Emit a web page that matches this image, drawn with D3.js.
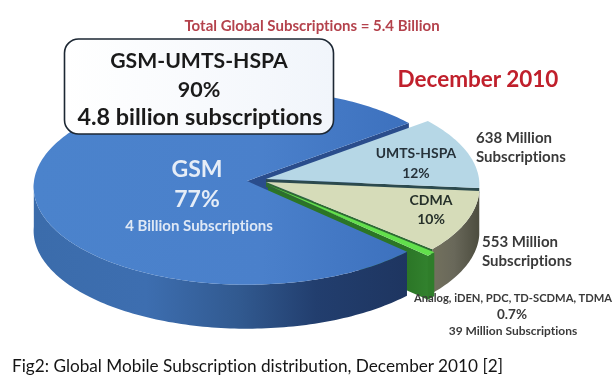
<!DOCTYPE html>
<html>
<head>
<meta charset="utf-8">
<script src="https://cdn.jsdelivr.net/npm/d3@7"></script>
<style>
  html, body { margin: 0; padding: 0; background: #fff; }
  svg { filter: blur(0.3px); }
  text { font-family: Lato, "Open Sans", sans-serif; font-variant-ligatures: none; }
</style>
</head>
<body>
<div id="chart"></div>
<script>
// values
const categories = ["UMTS-HSPA", "CDMA", "Other", "GSM"];
const shares = [12, 10, 0.7, 77];
const sliceColors = ["#b6d7e6", "#d6dcb9", "#62e04c", "url(#gsmTop)"];

const totalTitle = "Total Global Subscriptions = 5.4 Billion";
const dateTitle = "December 2010";
const calloutLines = ["GSM-UMTS-HSPA", "90%", "4.8 billion subscriptions"];
const gsmLines = ["GSM", "77%", "4 Billion Subscriptions"];
const umtsLines = ["UMTS-HSPA", "12%"];
const umtsNote = ["638 Million", "Subscriptions"];
const cdmaLines = ["CDMA", "10%"];
const cdmaNote = ["553 Million", "Subscriptions"];
const otherLines = ["Analog, iDEN, PDC, TD-SCDMA, TDMA", "0.7%", "39 Million Subscriptions"];
const caption = "Fig2: Global Mobile Subscription distribution, December 2010 [2]";

const w = 614, h = 379;
const depth = 44;
const rx = 213, ry = 97.5, persp = 0.06;   // flattened disc with a little perspective
const startDeg = 52;                       // pie start, clockwise from 12 o'clock

const svg = d3.select("#chart").append("svg").attr("width", w).attr("height", h);
const defs = svg.append("defs");

const grad = (id, stops, x1, x2) => {
    const g = defs.append("linearGradient").attr("id", id)
        .attr("gradientUnits", "userSpaceOnUse")
        .attr("x1", x1).attr("x2", x2).attr("y1", 0).attr("y2", 0);
    stops.forEach(s => g.append("stop").attr("offset", s[0]).attr("stop-color", s[1]));
};
grad("gsmTop", [[0, "#4b83cc"], [0.6, "#4a80cb"], [1, "#3c70bd"]], 33, 415);
grad("gsmWall", [[0, "#3b6cab"], [0.3, "#3d6eb0"], [0.55, "#31598f"], [0.75, "#223e6e"], [1, "#1e3560"]], 33, 410);
grad("cdmaWall", [[0, "#74725e"], [0.5, "#69685a"], [1, "#4e4e40"]], 430, 478);
grad("otherWall", [[0, "#2b7526"], [1, "#348530"]], 405, 435);
grad("calloutFill", [[0, "#ffffff"], [1, "#f1f5fb"]], 64, 334);

const arcs = d3.pie().sort(null).value(d => d)
    .startAngle(startDeg * Math.PI / 180)
    .endAngle((startDeg + 360) * Math.PI / 180)(shares);

// pie angle (clockwise from north) -> picture coordinates
const project = (a, f, c) => {
    const cos = Math.sin(a), sin = -Math.cos(a);
    const k = 1 - persp * sin * f;
    return [c.x + rx * f * cos / k, c.y + ry * f * sin / k];
};
const rim = (a0, a1, c) => {
    const n = Math.max(2, Math.ceil(Math.abs(a1 - a0) / 0.02));
    return d3.range(n + 1).map(i => project(a0 + (a1 - a0) * i / n, 1, c));
};
const line = d3.line();
const area = d3.area().x(d => d[0]).y0(d => d[1]).y1(d => d[1] + depth);
const shallowArea = d3.area().x(d => d[0]).y0(d => d[1]).y1(d => d[1] + 5);

const centers = [{x: 266, y: 179}, {x: 266, y: 182}, {x: 268, y: 185}, {x: 247, y: 181}];

const topFace = (i) => [[centers[i].x, centers[i].y]].concat(rim(arcs[i].startAngle, arcs[i].endAngle, centers[i]));
const radialWall = (a, c) => [[c.x, c.y], project(a, 1, c)];

// blue cut face shows through the gap above UMTS-HSPA
svg.append("path").attr("d", area(radialWall(arcs[3].endAngle, centers[3]))).attr("fill", "#2a4d8c");

// outer walls of the lighter slices
svg.append("path").attr("d", area(rim(arcs[1].startAngle, arcs[1].endAngle, centers[1]))).attr("fill", "url(#cdmaWall)");
svg.append("path").attr("d", area(radialWall(arcs[2].endAngle, centers[2]))).attr("fill", "url(#otherWall)");
svg.append("path").attr("d", area(rim(arcs[2].startAngle, arcs[2].endAngle, centers[2]))).attr("fill", "#2f7d2a");

// dark cut faces between the lighter slices, then their tops
svg.append("path").attr("d", shallowArea(radialWall(arcs[0].endAngle, centers[0]))).attr("fill", "#2c4a4e");
svg.append("path").attr("d", shallowArea(radialWall(arcs[1].endAngle, centers[1]))).attr("fill", "#2f6b34");
svg.selectAll("path.slice").data([0, 1, 2]).enter().append("path")
    .attr("class", "slice")
    .attr("d", i => line(topFace(i)) + "Z")
    .attr("fill", i => sliceColors[i]);

// GSM last, it sits in front
svg.append("path").attr("d", area(rim(arcs[3].startAngle, arcs[3].endAngle, centers[3])
    .filter(p => p[1] > centers[3].y))).attr("fill", "url(#gsmWall)");
svg.append("path").attr("d", line(topFace(3)) + "Z").attr("fill", sliceColors[3]);

// callout box
svg.append("rect")
    .attr("x", 64.5).attr("y", 39).attr("width", 269).attr("height", 95).attr("rx", 14)
    .attr("fill", "url(#calloutFill)").attr("stroke", "#1c2733").attr("stroke-width", 1.6);

const addText = (str, x, y, size, color, anchor, weight) => {
    svg.append("text").text(str)
        .attr("x", x).attr("y", y)
        .attr("font-size", size)
        .attr("font-weight", weight || "bold")
        .attr("fill", color)
        .attr("text-anchor", anchor || "middle");
};

addText(totalTitle, 312, 31, 15, "#b4424c");
addText(dateTitle, 478, 87, 22.5, "#c0202c");

addText(calloutLines[0], 199, 68, 21.2, "#1a1a1a");
addText(calloutLines[1], 199, 97, 21.5, "#1a1a1a");
addText(calloutLines[2], 200, 125, 23.4, "#1a1a1a");

addText(gsmLines[0], 197, 177, 23, "#e6edf7");
addText(gsmLines[1], 197, 207, 23, "#e6edf7");
addText(gsmLines[2], 199, 231, 15, "#dfe8f5");

addText(umtsLines[0], 416, 158, 13.9, "#26323a");
addText(umtsLines[1], 416, 178, 13.9, "#26323a");
addText(umtsNote[0], 476, 143, 15, "#3a3a3a", "start");
addText(umtsNote[1], 476, 162, 15, "#3a3a3a", "start");

addText(cdmaLines[0], 431, 205, 14, "#26302a");
addText(cdmaLines[1], 431, 224, 14, "#26302a");
addText(cdmaNote[0], 482, 247, 15, "#3a3a3a", "start");
addText(cdmaNote[1], 482, 266, 15, "#3a3a3a", "start");

addText(otherLines[0], 513, 302, 11.2, "#3a3a3a");
addText(otherLines[1], 512, 318.5, 13.5, "#3a3a3a");
addText(otherLines[2], 513, 334.5, 12, "#3a3a3a");

addText(caption, 12, 372, 17.2, "#151515", "start", "normal");
</script>
</body>
</html>
